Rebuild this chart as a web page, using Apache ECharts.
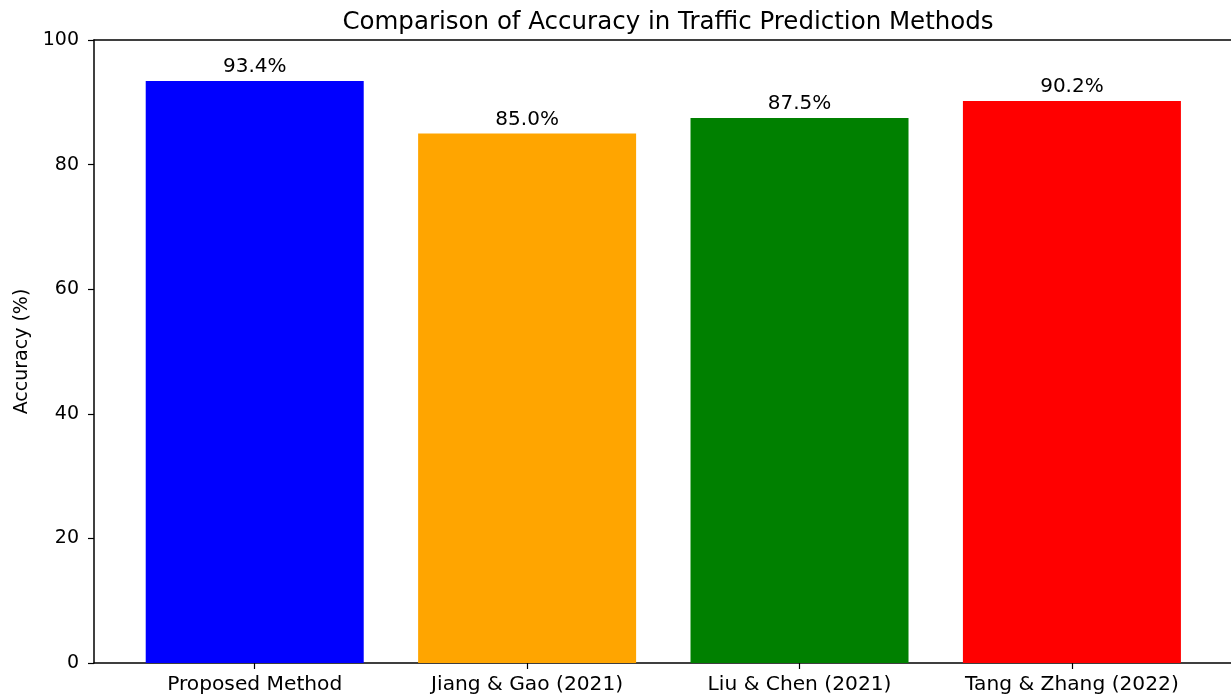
<!DOCTYPE html>
<html>
<head>
<meta charset="utf-8">
<title>Comparison of Accuracy in Traffic Prediction Methods</title>
<script src="https://cdn.jsdelivr.net/npm/echarts@6/dist/echarts.min.js"></script>
<style>
    html, body { margin: 0; padding: 0; background: #fff; }
    #chart { width: 1231px; height: 697px; }
</style>
</head>
<body>
<div id="chart"></div>
<script>
// data
var methods = ['Proposed Method', 'Jiang & Gao (2021)', 'Liu & Chen (2021)', 'Tang & Zhang (2022)'];
var accuracy = [93.4, 85.0, 87.5, 90.2];
var barColors = ['#0000ff', '#ffa500', '#008000', '#ff0000'];
var yTicks = [0, 20, 40, 60, 80, 100];

(function () {
    var chart = echarts.init(document.getElementById('chart'));
    var positions = [];
    var barData = [];
    for (var i = 0; i < methods.length; i++) {
        positions.push(i);
        barData.push({
            value: [i, accuracy[i]],
            itemStyle: { color: barColors[i] }
        });
    }
    var font = 'DejaVu Sans';

    var option = {
        animation: false,
        title: {
            text: 'Comparison of Accuracy in Traffic Prediction Methods',
            left: 663,
            textAlign: 'center',
            top: 5,
            textStyle: { fontFamily: font, fontSize: 24.5, fontWeight: 'normal', color: '#000' }
        },
        grid: { left: 94, right: 0, top: 40, bottom: 34 },
        xAxis: [{
            type: 'value',
            min: -0.59,
            max: 3.584,
            axisLine: { show: true, onZero: false, lineStyle: { color: '#000', width: 1.5 } },
            axisTick: { show: true, length: 6, customValues: positions, lineStyle: { color: '#000', width: 1.2 } },
            axisLabel: {
                customValues: positions,
                margin: 12,
                color: '#000',
                fontFamily: font,
                fontSize: 20.2,
                formatter: function (v) { return methods[Math.round(v)]; }
            },
            splitLine: { show: false }
        }, {
            type: 'value',
            position: 'top',
            min: -0.59,
            max: 3.584,
            axisLine: { show: true, onZero: false, lineStyle: { color: '#000', width: 1.5 } },
            axisTick: { show: false },
            axisLabel: { show: false },
            splitLine: { show: false }
        }],
        yAxis: {
            type: 'value',
            min: 0,
            max: 100,
            interval: 20,
            name: 'Accuracy (%)',
            nameLocation: 'middle',
            nameGap: 62,
            nameTextStyle: { fontFamily: font, fontSize: 19, color: '#000' },
            axisLine: { show: true, onZero: false, lineStyle: { color: '#000', width: 1.5 } },
            axisTick: { show: true, length: 6, lineStyle: { color: '#000', width: 1.2 } },
            axisLabel: {
                margin: 15,
                color: '#000',
                fontFamily: font,
                fontSize: 19,
                customValues: yTicks
            },
            splitLine: { show: false }
        },
        series: [{
            type: 'bar',
            xAxisIndex: 0,
            barWidth: 218,
            data: barData,
            label: {
                show: true,
                position: 'top',
                distance: 4,
                color: '#000',
                fontFamily: font,
                fontSize: 20,
                formatter: function (p) { return p.value[1].toFixed(1) + '%'; }
            }
        }]
    };
    chart.setOption(option);
})();
</script>
</body>
</html>
